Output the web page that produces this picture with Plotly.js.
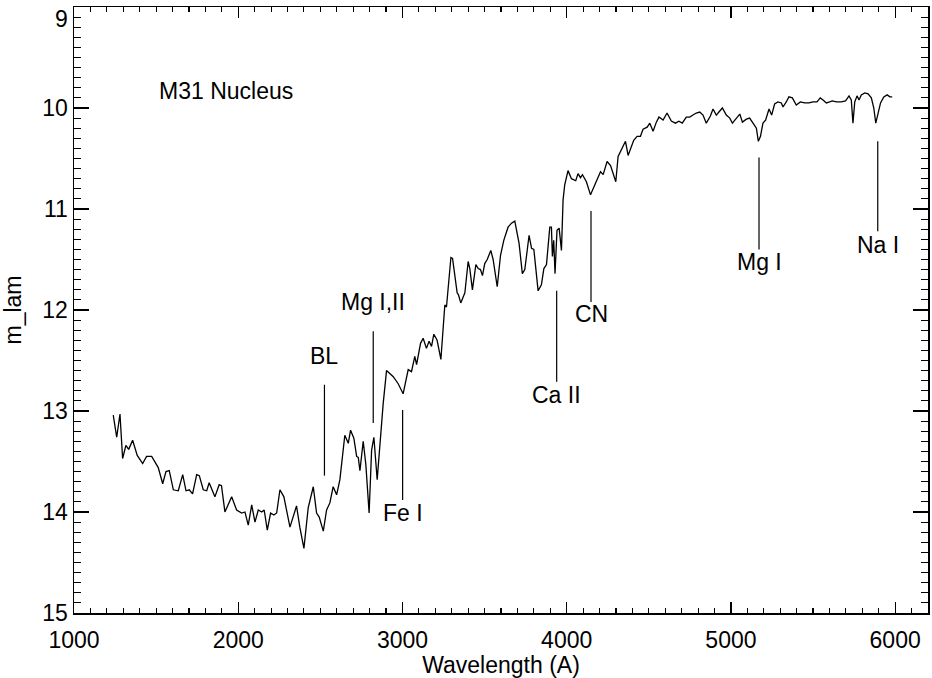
<!DOCTYPE html>
<html>
<head>
<meta charset="utf-8">
<script src="https://cdn.plot.ly/plotly-3.0.1.min.js"></script>
<style>html,body{margin:0;padding:0;background:#fff;}#chart{width:932px;height:678px;}</style>
</head>
<body>
<div id="chart"></div>
<script>
const wavelength = [1239,1260,1280,1296,1316,1333,1357,1385,1418,1442,1473,1513,1540,1560,1580,1605,1635,1662,1682,1702,1722,1747,1763,1787,1808,1823,1858,1884,1898,1919,1960,1990,2021,2041,2061,2082,2102,2122,2143,2158,2177,2197,2217,2234,2254,2278,2315,2355,2375,2400,2426,2457,2477,2493,2518,2538,2558,2578,2599,2619,2649,2670,2684,2704,2721,2731,2741,2761,2777,2797,2812,2826,2846,2867,2883,2903,2944,2974,3004,3035,3055,3075,3086,3110,3126,3146,3162,3177,3191,3211,3234,3258,3268,3295,3305,3333,3341,3355,3380,3400,3410,3426,3447,3461,3475,3487,3501,3516,3538,3552,3577,3597,3617,3643,3664,3684,3710,3730,3745,3771,3786,3800,3826,3846,3861,3877,3897,3907,3913,3921,3929,3941,3954,3968,3978,3988,4008,4029,4055,4069,4084,4096,4120,4145,4161,4181,4206,4222,4246,4267,4283,4299,4313,4333,4358,4374,4388,4408,4429,4449,4465,4490,4506,4526,4546,4562,4587,4611,4637,4662,4683,4704,4728,4749,4769,4789,4810,4830,4850,4875,4891,4911,4927,4948,4972,4993,5009,5029,5054,5070,5094,5114,5135,5155,5167,5180,5195,5211,5232,5248,5266,5286,5307,5317,5337,5353,5374,5398,5423,5449,5475,5500,5524,5544,5561,5581,5601,5617,5642,5672,5698,5719,5733,5743,5754,5768,5780,5794,5815,5835,5855,5870,5882,5896,5911,5931,5951,5968,5982];
const mag = [13.04,13.26,13.03,13.47,13.34,13.38,13.29,13.44,13.52,13.45,13.45,13.56,13.72,13.60,13.59,13.78,13.79,13.63,13.79,13.78,13.82,13.63,13.64,13.78,13.79,13.71,13.85,13.73,13.74,14.00,13.85,13.98,14.01,14.00,14.13,13.93,14.10,13.98,14.00,13.98,14.18,14.01,14.03,14.01,13.78,13.85,14.15,13.94,14.15,14.36,13.96,13.75,14.01,14.05,14.19,13.98,13.91,13.75,13.83,13.68,13.24,13.32,13.19,13.27,13.45,13.46,13.59,13.30,13.53,14.01,13.39,13.26,13.68,13.24,12.92,12.60,12.66,12.73,12.83,12.59,12.61,12.46,12.54,12.33,12.28,12.38,12.31,12.36,12.24,12.30,12.49,11.95,11.97,11.48,11.49,11.83,11.85,11.93,11.83,11.52,11.59,11.80,11.55,11.59,11.60,11.66,11.54,11.50,11.41,11.50,11.77,11.46,11.31,11.18,11.14,11.12,11.34,11.64,11.60,11.26,11.39,11.40,11.81,11.75,11.59,11.55,11.18,11.18,11.47,11.31,11.64,11.21,11.19,11.41,10.91,10.76,10.62,10.70,10.72,10.65,10.69,10.66,10.73,10.86,10.80,10.73,10.63,10.66,10.53,10.57,10.65,10.73,10.48,10.41,10.33,10.47,10.40,10.32,10.28,10.28,10.21,10.19,10.15,10.23,10.14,10.09,10.12,10.05,10.13,10.15,10.13,10.15,10.09,10.09,10.07,10.05,10.04,10.07,10.15,10.08,10.01,10.07,10.04,10.00,10.07,10.10,10.15,10.11,10.06,10.14,10.11,10.10,10.15,10.20,10.33,10.28,10.15,10.12,10.01,10.07,9.96,9.94,9.95,9.99,9.94,9.89,9.90,9.97,9.94,9.95,9.95,9.94,9.94,9.90,9.92,9.95,9.94,9.93,9.94,9.94,9.93,9.88,9.92,10.15,9.94,9.88,9.92,9.87,9.85,9.86,9.90,10.00,10.15,10.05,9.95,9.89,9.87,9.89,9.89];

const featureNames = ['BL','Mg I,II','Fe I','Ca II','CN','Mg I','Na I'];
const featureWave = [2525,2822,3001,3939,4148,5171,5894];
const lineTop = [12.74,12.21,12.99,11.81,11.02,10.49,10.33];
const lineBottom = [13.64,13.12,13.88,12.71,11.92,11.40,11.22];
const labelMag = [12.46,11.92,14.01,12.84,12.04,11.52,11.36];

const objectName = 'M31 Nucleus';
const objectLabelPos = [1505, 9.83];

const xTicks = [1000,2000,3000,4000,5000,6000];
const yTicks = [9,10,11,12,13,14,15];

const FONT = 'Liberation Sans, Arial, Helvetica, sans-serif';
const FS = 23;

const shapes = featureWave.map((w,i)=>({
  type:'line', xref:'x', yref:'y', x0:w, x1:w, y0:lineTop[i], y1:lineBottom[i],
  line:{color:'#000', width:1.2}
}));

const annotations = featureNames.map((n,i)=>({
  text:n, x:featureWave[i], y:labelMag[i], xref:'x', yref:'y',
  showarrow:false, xanchor:'center', yanchor:'middle',
  font:{family:FONT, size:FS, color:'#000'}
}));
annotations.push({
  text:objectName, x:objectLabelPos[0], y:objectLabelPos[1], xref:'x', yref:'y',
  showarrow:false, xanchor:'left', yanchor:'middle',
  font:{family:FONT, size:FS, color:'#000'}
});
// top tick label (drawn just below its tick so it is not cut by the page edge)
annotations.push({
  text:String(yTicks[0]), x:0, xref:'paper', y:yTicks[0], yref:'y',
  showarrow:false, xanchor:'right', yanchor:'top', xshift:-4, yshift:3,
  font:{family:FONT, size:FS, color:'#000'}
});

const trace = {
  x: wavelength, y: mag, type:'scatter', mode:'lines',
  line:{color:'#000', width:1.3}, hoverinfo:'skip'
};

const layout = {
  width:932, height:678,
  margin:{l:74, r:4, t:7, b:65, pad:0},
  paper_bgcolor:'#fff', plot_bgcolor:'#fff',
  showlegend:false,
  font:{family:FONT, size:FS, color:'#000'},
  xaxis:{
    range:[1000,6200], tickmode:'array', tickvals:xTicks, ticktext:xTicks.map(String),
    ticks:'inside', ticklen:11, tickwidth:1.3, tickcolor:'#000',
    showline:true, linecolor:'#000', linewidth:1.5, mirror:'ticks',
    showgrid:false, zeroline:false,
    minor:{dtick:100, tick0:1000, ticks:'inside', ticklen:5, tickwidth:1.1, tickcolor:'#000', showgrid:false},
    tickfont:{family:FONT, size:FS, color:'#000'},
    ticklabelstandoff:6,
    title:{text:'Wavelength (A)', font:{family:FONT, size:FS, color:'#000'}, standoff:0}
  },
  yaxis:{
    range:[15,9], tickmode:'array', tickvals:yTicks,
    ticktext:yTicks.map((v,i)=> i===0 ? '' : String(v)),
    ticks:'inside', ticklen:15, tickwidth:1.3, tickcolor:'#000',
    showline:true, linecolor:'#000', linewidth:1.5, mirror:'ticks',
    showgrid:false, zeroline:false,
    minor:{dtick:0.1, tick0:9, ticks:'inside', ticklen:7, tickwidth:1.1, tickcolor:'#000', showgrid:false},
    tickfont:{family:FONT, size:FS, color:'#000'},
    title:{text:'m_lam', font:{family:FONT, size:FS, color:'#000'}, standoff:14}
  },
  shapes:shapes,
  annotations:annotations
};

Plotly.newPlot('chart',[trace],layout,{displayModeBar:false, staticPlot:true});
</script>
</body>
</html>
